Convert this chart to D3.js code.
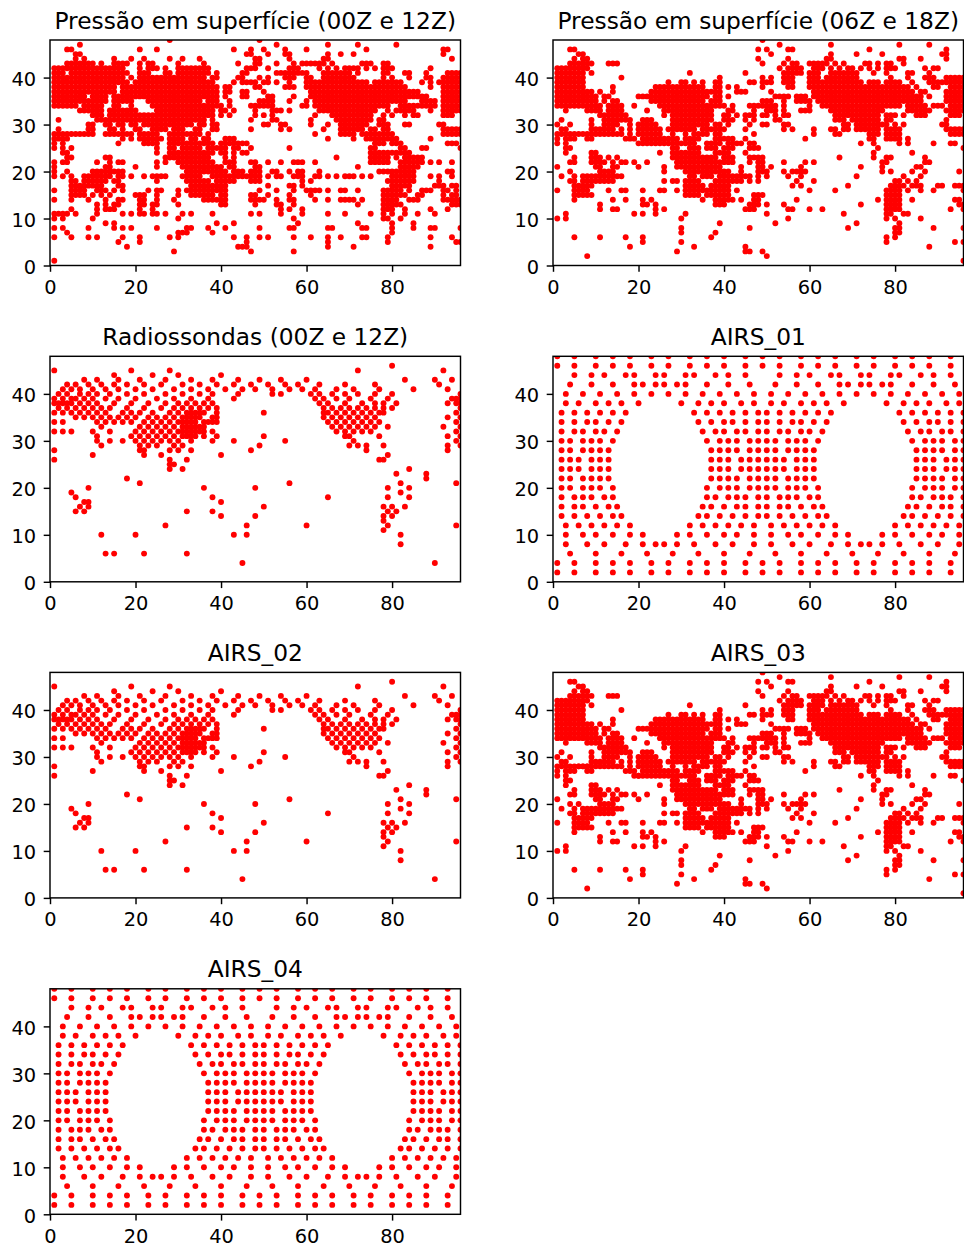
<!DOCTYPE html>
<html>
<head>
<meta charset="utf-8">
<script src="https://d3js.org/d3.v7.min.js"></script>
<style>
body { margin: 0; background: #fff; }
text { font-family: "DejaVu Sans", sans-serif; fill: #000; }
</style>
</head>
<body>
<div class="canvas"></div>
<script>
// rows: first number is y, the rest are x values, [a, b] means every x from a to b
const superficie0012 = [
  [48, 28, 49],
  [47, 7, 53, 65, 72, 81],
  [46, 4, 5, 21, 25, 43, 47, 50, 55, 60, 74, 92, 93],
  [45, 6, 7, 46, 47, 51, 55, 56, 65, 68, 71, 92],
  [44, 6, 8, 15, 19, 22, 28, 31, 35, 48, 49, 56, 64, 65, 94],
  [43, [4, 10], 12, [15, 18], 21, 23, 24, 30, 36, 44, 48, 49, 53, 57, [59, 64], 66, 73, 74, 75, 78, 79],
  [42, [1, 17], 21, [23, 25], 27, [30, 37], 46, 47, 48, 51, [56, 58], 63, 65, 67, [69, 72], 74, 76, [78, 80], 89],
  [41, [1, 3], [5, 18], [21, 23], 27, 28, [30, 37], 39, 45, 46, [53, 60], [64, 70], 72, 78, 79, 83, 84, 88, [93, 96]],
  [40, [1, 17], 19, [21, 36], 38, 39, 44, 45, 49, 51, [55, 57], [60, 61], [64, 71], 78, 80, 84, 88, 89, [92, 96]],
  [39, [1, 18], [20, 38], 43, [45, 48], 50, 51, 53, 56, [60, 74], [76, 82], 87, 89, [91, 96]],
  [38, [1, 15], [17, 37], 38, 39, 41, 42, 48, 49, [55, 57], [60, 83], 89, [92, 96]],
  [37, [1, 15], [17, 39], 41, 42, 45, 46, 50, [61, 86], [92, 96]],
  [36, [1, 8], [10, 13], [15, 39], 41, 45, 46, 51, 52, 57, [61, 88], [92, 96]],
  [35, [1, 13], [15, 19], [23, 35], [37, 39], 42, 49, 50, 51, 52, 56, 60, [62, 83], [87, 90], [92, 96]],
  [34, [1, 6], [8, 12], 15, 16, 19, [24, 40], 42, [47, 52], 59, 60, [62, 79], [82, 90], [92, 96]],
  [33, [7, 12], [14, 20], [25, 37], 38, 40, 41, 43, 48, [52, 54], 56, [63, 76], 79, 81, [82, 85], 89, [92, 96]],
  [32, [10, 12], [14, 26], [27, 38], 40, 42, 48, 50, 52, 62, [66, 75], 78, 80, 83, 85, 86, 92, 93, 94],
  [31, 2, [11, 28], [29, 36], 38, 47, 52, 53, 61, [67, 75], 77, 78],
  [30, 9, 10, 13, 14, 16, 17, 19, 20, [22, 33], 35, 36, 38, 39, 50, 51, 54, 55, 61, 65, [68, 74], [77, 79], 83, 84, 91, 92],
  [29, 2, 9, 10, 14, 15, 17, 20, 21, [24, 27], [29, 31], 34, 35, 38, 39, 47, 54, 56, 64, [68, 73], 75, 76, 78, 79, [92, 96]],
  [28, [1, 10], [13, 19], [21, 25], [28, 35], 37, 62, [68, 71], [73, 80], [92, 96]],
  [27, [1, 4], 17, 19, 21, 22, [23, 26], [28, 31], 33, 34, 36, 37, [41, 43], 65, 71, [74, 81], 89],
  [26, 1, 3, 16, 22, 23, 24, 25, [28, 38], 40, 41, [42, 46], [76, 78], [80, 82], [93, 95]],
  [25, 1, 3, 5, 25, 28, 29, [31, 35], [37, 41], 43, 44, 47, 56, 75, 76, 82, 83, 87, 88, 96],
  [24, 3, 4, 25, [28, 38], 40, 41, 43, 45, 46, [75, 84]],
  [23, 4, 5, 13, 14, 27, 28, [29, 37], 41, 43, 67, [75, 79], 81, [83, 87]],
  [22, 1, 3, 4, 11, 14, 16, 17, 25, 27, [30, 38], [41, 43], 47, 48, 51, 54, [57, 59], 62, [75, 79], [82, 87], 89, 91, 94],
  [21, 1, 13, 14, 20, 25, [31, 40], 42, 43, 48, 49, 72, [82, 86]],
  [20, 1, 4, [10, 17], [32, 41], 43, 44, 45, 47, 48, 49, 52, 53, 56, 58, 59, 63, [77, 85], 93, 94],
  [19, 1, 3, 5, [8, 14], 16, 17, 19, 22, [24, 27], [31, 35], [38, 46], [47, 49], 51, 53, 54, [57, 59], 62, 63, 65, 67, [69, 71], 73, 75, [80, 85], 89, 91, 94],
  [18, 5, 6, [8, 13], 15, 16, 25, [32, 37], [39, 43], [47, 49], 59, 61, [79, 85], 91],
  [17, [5, 12], 16, 17, [33, 41], 51, 56, 57, 59, [80, 84], [90, 92], 94, 95],
  [16, 1, [5, 8], 11, 12, 13, 15, 17, 23, 25, 26, 30, [32, 41], 49, 53, 57, [60, 63], 65, 68, 69, 72, [78, 82], 84, 87, 88, 89, 92, 93, 95],
  [15, [5, 8], 10, 12, 14, [20, 22], 25, 30, [33, 38], 40, 41, 47, 48, 51, 56, 61, [78, 83], 86, 87, 92, 94, 95],
  [14, 1, 5, 9, 13, 16, 17, 21, 22, 25, 29, [36, 41], [47, 50], 53, 56, 57, 62, 65, [68, 71], 73, [78, 81], [84, 86], [92, 96]],
  [13, 11, 13, 15, 16, 21, 22, 24, 25, 30, 40, 41, 48, 53, 54, 57, 72, [78, 82], [94, 96]],
  [12, 5, 11, 13, 14, 15, 21, 24, 54, 56, 59, [78, 80], 83, 89, 93],
  [11, [1, 4], 6, 11, 17, 19, 21, 22, 24, 25, 27, 31, 33, 38, 47, 49, 54, 59, 65, 69, 75, 78, 80, 83, 86, 90],
  [10, 1, 3, 10, 30, 57, 78, 79, 82],
  [9, 13, 15, 39, 43, 58, 72, 80, 85],
  [8, 1, 3, 9, 15, 17, 19, 25, 32, 33, 37, 41, 49, 56, 57, 65, 66, 73, 74, 80, 85, 89, 90, 96],
  [7, 4, 30, 31, 32, 38, 80],
  [6, 1, 5, 9, 11, 17, 21, 28, 30, 43, 46, 49, 51, 57, 61, 65, 68, 73, 74, 79, 89, 94],
  [5, 16, 21, 46, 65, 79, 95, 96],
  [4, 18, 44, 45, 46, 65, 71, 89],
  [3, 29, 47, 57],
  [1, 1]
];

const superficie0618 = [
  [48, 49],
  [47, 53, 65, 81, 88],
  [46, 4, 5, 48, 50, 55, 56, 74, 92],
  [45, 6, 7, 51, 65, 71, 77, 91, 92],
  [44, 5, 7, 8, 48, 55, 64, 65, 81, 82, 86, 92],
  [43, [4, 9], [13, 15], 49, 54, 56, 57, [60, 64], 66, 68, 73, 74, 76, 78, 79, 82],
  [42, [1, 8], 53, [55, 58], [61, 63], 65, 67, 69, 70, 72, 74, 76, [78, 80], 87, 89, 90],
  [41, [1, 7], 9, 32, 45, [54, 58], [60, 62], [65, 71], 75, 78, 83, 84, 88],
  [40, [1, 7], 16, 39, 49, 51, [54, 56], [60, 62], [64, 71], 79, 83, 87, 88, 89, [92, 96]],
  [39, [1, 7], 27, 30, 31, 33, 35, 38, 39, 46, 47, 49, 50, 51, [54, 56], [60, 72], [74, 76], [78, 81], 84, [88, 90], [91, 96]],
  [38, [1, 7], 14, [24, 35], 38, 39, 41, 43, 49, 55, 56, [60, 83], 85, 89, 90, [93, 96]],
  [37, [1, 9], 11, 14, [23, 39], [43, 45], 51, [61, 84], 86, 87, [92, 96]],
  [36, [1, 10], 12, 13, [20, 36], 38, 39, 41, [52, 55], [57, 59], [61, 86], 88, [92, 96]],
  [35, [1, 10], 12, 14, 15, [23, 35], [37, 39], 49, 50, 51, 54, [57, 60], [62, 86], [92, 96]],
  [34, [1, 11], [13, 16], 19, [25, 40], 42, 46, 47, [48, 52], 54, 60, [63, 81], [83, 87], [89, 91], [93, 96]],
  [33, 3, [8, 11], [13, 16], 22, [26, 37], 41, 42, 47, 50, 51, 52, 54, 58, 59, 60, [65, 77], [83, 88], [92, 96]],
  [32, [11, 17], 26, [28, 37], 40, 41, 43, 45, 46, 47, 49, 50, 52, 54, 55, [66, 76], [78, 80], 82, [85, 87], [93, 95]],
  [31, 2, 9, 12, [13, 18], [21, 23], [28, 37], 40, 41, 42, 45, 47, 52, 53, [66, 68], [70, 76], 78, 79, 92],
  [30, 1, 4, 9, [12, 15], 18, [20, 24], [28, 36], 38, 39, 41, 46, 49, 50, 54, 55, 68, 69, [71, 78], 80, 82, 91, 92],
  [29, 2, 3, [9, 14], 16, 18, [20, 25], 27, [28, 33], [35, 40], 45, 54, 56, 61, 65, 66, 68, 69, [71, 76], [78, 81], [92, 96]],
  [28, [1, 16], 18, [20, 25], 28, 31, [33, 36], 38, 39, 47, 61, 66, 67, [74, 76], [78, 81], [93, 96]],
  [27, 1, [3, 5], 8, 9, [17, 19], [21, 29], [31, 34], [38, 42], 45, 59, 74, 75, [78, 81], 83],
  [26, 1, 3, [20, 33], 36, 37, 38, 39, 41, [42, 44], 46, 47, 72, 75, 81, 83, 89, 93, 94],
  [25, 3, 4, 28, 29, [32, 34], [36, 38], 40, 41, 42, 46, 47, 48, 76, 96],
  [24, 3, 9, 10, 25, [28, 34], [38, 41], 45, 75, 84],
  [23, 5, [9, 11], 13, 15, [28, 38], [40, 42], 46, 47, 48, 49, 67, 75, 78, 79, 87],
  [22, 4, 5, [9, 12], 14, 16, 17, 19, 22, [29, 42], 46, 48, 49, 54, 59, 61, 77, 78, 87, 88],
  [21, 1, 10, 11, 14, 15, 20, 26, [29, 39], 44, 48, 49, 51, 58, 72, 77, 85, 86],
  [20, 4, [11, 14], 26, [31, 41], 44, 48, 49, 50, 54, [56, 59], 77, 79, 84, 87, 95],
  [19, 2, 5, 7, 8, [9, 16], 32, 33, [35, 37], [39, 46], 48, 50, 55, 58, 71, 82, 86],
  [18, 4, 5, [7, 14], 26, 28, 29, [31, 34], [38, 44], 46, 48, 57, 61, 80, 81, 83, 85],
  [17, [5, 9], [31, 35], [37, 41], 56, 58, 69, [79, 82], [84, 86], 90, 91, 94, 95, 96],
  [16, 1, [5, 8], 13, 16, 17, 21, 25, 26, 29, [31, 41], 43, 60, 66, [78, 81], 83, 86, 89, 96],
  [15, [5, 9], [31, 34], [36, 41], 47, 48, 49, [78, 81]],
  [14, 5, 14, 17, 21, 23, 35, [38, 42], 44, 47, 48, 57, 76, [78, 81], 84, 94, 95],
  [13, 11, 21, 22, 24, [38, 40], 46, 47, 48, 50, 54, 72, [78, 81], 95, 96],
  [12, 11, 14, 15, 24, 26, [45, 47], 55, 56, 60, 63, [78, 81], 93, 96],
  [11, 3, 19, 21, 24, 31, 50, 68, 78, 79, 82, 83],
  [10, 1, 3, 30, 55, 78, 80, 86],
  [9, 39, 52, 71, 81],
  [8, 30, 46, 69, 80, 81, 89, 96],
  [7, 30, 38, 80, 81],
  [6, 5, 11, 17, 21, 37, 78, 80],
  [5, 21, 30, 78, 94, 96],
  [4, 18, 33, 45, 88],
  [3, 29, 45, 46, 49],
  [2, 8, 50],
  [1, 96]
];

// AIRS_03 carries the same cells plus these few
const airs03Extra = [
  [20, 6],
  [28, 6, 7, 8],
  [41, 61, 62, 63],
  [26, 19, 20]
];

const radiossondas = [
  [46, 80],
  [45, 1, 19, 28, 72, 92],
  [44, 15, 24, 30, 40],
  [43, 8, 11, 16, 21, 27, 33, 38, 44, 49, 54, 60, 83, 90, 94],
  [42, 4, 6, 9, 12, 15, 18, 22, 26, 31, 35, 39, 43, 47, 51, 55, 58, 63, 69, 76, 91],
  [41, 3, 5, 7, 10, 13, 16, 20, 24, 29, 33, 37, 41, 45, 48, 52, 56, 59, 62, 67, 71, 77, 85, 93],
  [40, 2, 4, 7, 9, 11, 14, 18, 22, 27, 31, 35, 38, 44, 52, 54, 61, 63, 66, 69, 72, 76, 80, 96],
  [39, 1, 3, 5, 6, 8, 10, 13, 16, 20, 25, 29, 33, 37, 43, 62, 64, 67, 70, 75, 79, 94, 95, 96],
  [38, [1, 5], 7, 9, 11, 15, 19, 23, 27, 30, 32, 34, 36, 38, 63, 65, 69, 73, 76, 78, 81, 93, 95, 96],
  [37, 2, 4, 6, 8, 10, 12, 14, 18, 22, 26, 29, 31, 33, 35, 37, 39, 64, 66, 68, 70, 72, 74, 76, 78, 80, 96],
  [36, 1, 3, 5, 7, 9, 11, 13, 17, 19, 21, 24, 28, 30, [32, 36], 39, 50, 64, 65, 67, 69, 71, 73, 75, 77, 78, 95],
  [35, 6, 8, 10, 12, 14, 16, 18, 20, 23, 25, 27, 29, 31, [32, 35], 38, 39, 64, 66, 68, 70, 72, 74, 76, 93, 96],
  [34, 1, 3, 11, 13, 15, 17, 19, 22, 24, 26, 28, 30, [31, 34], [36, 39], 65, 67, 69, 71, 73, 75, 77, 95],
  [33, 12, 21, 23, 25, 27, 29, [31, 36], 66, 68, 70, 72, 74, 76, 79, 92, 96],
  [32, 1, 3, 5, 10, 14, 20, 22, 24, 26, 28, 30, [31, 36], 38, 67, 69, 71, 73, 75, 95],
  [31, 11, 19, 21, 23, 25, 27, 29, [31, 34], 36, 39, 50, 69, 70, 77, 93, 96],
  [30, 11, 14, 17, 20, 22, 24, 26, 28, 30, 33, 38, 43, 55, 71, 95],
  [29, 12, 21, 23, 25, 29, 31, 49, 70, 72, 74, 78, 93, 96],
  [28, 1, 21, 22, 28, 30, 33, 47, 74, 93],
  [27, 10, 22, 26, 40, 79],
  [26, 1, 28, 32, 77, 78],
  [25, 28, 29],
  [24, 28, 31, 84],
  [23, 81, 88],
  [22, 18, 88],
  [21, 21, 56, 82, 95],
  [20, 9, 36, 48, 79, 84],
  [19, 5, 82],
  [18, 6, 38, 65, 79, 84],
  [17, 8, 9, 40],
  [16, 7, 9, 50, 78, 80, 83],
  [15, 6, 8, 32, 38, 79, 81],
  [14, 40, 48, 78, 80],
  [13, 78],
  [12, 27, 46, 60, 79, 95],
  [11, 78],
  [10, 12, 20, 43, 46, 82],
  [8, 82],
  [6, 13, 15, 22, 32],
  [4, 45, 90]
];
const airs02 = radiossondas;

const airs01 = [
  [48, 1, 5, 10, 14, 18, 23, 27, 32, 36, 40, 45, 49, 53, 58, 62, 66, 71, 75, 80, 84, 88, 93],
  [46, 1, 5, 10, 14, 18, 23, 27, 32, 36, 40, 45, 49, 53, 58, 62, 66, 71, 75, 80, 84, 88, 93],
  [44, 5, 9, 12, 17, 19, 24, 26, 31, 33, 38, 41, 45, 53, 57, 60, 65, 67, 72, 74, 79, 81, 86, 89, 93],
  [42, 4, 9, 14, 19, 21, 24, 26, 29, 31, 36, 41, 46, 52, 57, 62, 67, 69, 72, 74, 77, 79, 84, 89, 94],
  [40, 3, 7, 11, 15, 19, 23, 27, 31, 35, 39, 43, 47, 51, 55, 59, 63, 67, 71, 75, 79, 83, 87, 91, 95],
  [38, 3, 6, 10, 13, 16, 20, 30, 34, 37, 40, 44, 47, 51, 54, 58, 61, 64, 68, 78, 82, 85, 88, 92, 95],
  [36, 2, 5, 8, 11, 14, 17, 33, 36, 39, 42, 45, 48, 50, 53, 56, 59, 62, 65, 81, 84, 87, 90, 93, 96],
  [34, 2, 5, 8, 10, 13, 16, 34, 37, 40, 42, 45, 48, 50, 53, 56, 58, 61, 64, 82, 85, 88, 90, 93, 96],
  [32, 2, 5, 7, 10, 12, 15, 35, 38, 40, 43, 45, 48, 50, 53, 55, 58, 60, 63, 83, 86, 88, 91, 93, 96],
  [30, 2, 4, 7, 9, 11, 14, 36, 39, 41, 43, 46, 48, 50, 52, 55, 57, 59, 62, 84, 87, 89, 91, 94, 96],
  [28, 2, 4, 7, 9, 11, 13, 37, 39, 41, 43, 46, 48, 50, 52, 55, 57, 59, 61, 85, 87, 89, 91, 94, 96],
  [26, 2, 4, 6, 9, 11, 13, 37, 39, 41, 44, 46, 48, 50, 52, 54, 57, 59, 61, 85, 87, 89, 92, 94, 96],
  [24, 2, 4, 6, 9, 11, 13, 37, 39, 41, 44, 46, 48, 50, 52, 54, 57, 59, 61, 85, 87, 89, 92, 94, 96],
  [22, 2, 4, 7, 9, 11, 13, 37, 39, 41, 43, 46, 48, 50, 52, 55, 57, 59, 61, 85, 87, 89, 91, 94, 96],
  [20, 2, 4, 7, 9, 11, 14, 36, 39, 41, 43, 46, 48, 50, 52, 55, 57, 59, 62, 84, 87, 89, 91, 94, 96],
  [18, 2, 5, 7, 9, 12, 14, 36, 38, 41, 43, 45, 48, 50, 53, 55, 57, 60, 62, 84, 86, 89, 91, 93, 96],
  [16, 2, 5, 7, 10, 13, 15, 35, 37, 40, 43, 45, 48, 50, 53, 55, 58, 61, 63, 83, 85, 88, 91, 93, 96],
  [14, 2, 5, 8, 11, 14, 16, 34, 36, 39, 42, 45, 48, 50, 53, 56, 59, 62, 64, 82, 84, 87, 90, 93, 96],
  [12, 3, 6, 9, 12, 15, 18, 32, 35, 38, 41, 44, 47, 51, 54, 57, 60, 63, 66, 80, 83, 86, 89, 92, 95],
  [10, 3, 7, 10, 14, 18, 21, 29, 32, 36, 40, 43, 47, 51, 55, 58, 62, 66, 69, 77, 80, 84, 88, 91, 95],
  [8, 3, 8, 12, 17, 21, 24, 26, 29, 33, 38, 42, 47, 51, 56, 60, 65, 69, 72, 74, 77, 81, 86, 90, 95],
  [6, 4, 10, 16, 22, 28, 34, 40, 46, 52, 58, 64, 70, 76, 82, 88, 94],
  [4, 1, 5, 10, 14, 18, 23, 27, 32, 36, 40, 45, 49, 53, 58, 62, 66, 71, 75, 80, 84, 88, 93],
  [2, 1, 5, 10, 14, 18, 23, 27, 32, 36, 40, 45, 49, 53, 58, 62, 66, 71, 75, 80, 84, 88, 93]
];
const airs04 = airs01;

const titles = ['Pressão em superfície (00Z e 12Z)', 'Pressão em superfície (06Z e 18Z)', 'Radiossondas (00Z e 12Z)',
  'AIRS_01', 'AIRS_02', 'AIRS_03', 'AIRS_04'];
const panelRows = [superficie0012, superficie0618, radiossondas, airs01, airs02, superficie0618.concat(airs03Extra), airs04];
const xTicks = [0, 20, 40, 60, 80];
const yTicks = [0, 10, 20, 30, 40];

// turn the rows into {x, y} cells
const cells = rows => rows.flatMap(([y, ...xs]) =>
  xs.flatMap(v => Array.isArray(v) ? d3.range(v[0], v[1] + 1) : [v]).map(x => ({ x, y })));

const svg = d3.select('.canvas').append('svg')
    .attr('width', 964)
    .attr('height', 1250)
    .style('display', 'block');

const plotW = 410.5;
const plotH = 225.5;
const colLeft = [50, 553];
const rowTop = [40, 356.3, 672.4, 988.8];

const x = d3.scaleLinear().domain([0, 96]).range([0, plotW]);
const y = d3.scaleLinear().domain([0, 48]).range([plotH, 0]);

svg.append('clipPath').attr('id', 'plot-clip')
  .append('rect').attr('width', plotW).attr('height', plotH);

titles.forEach((title, i) => {
  const g = svg.append('g')
      .attr('transform', `translate(${colLeft[i % 2]}, ${rowTop[Math.floor(i / 2)]})`);

  g.append('g').attr('clip-path', 'url(#plot-clip)')
    .selectAll('circle')
    .data(cells(panelRows[i]))
    .join('circle')
      .attr('cx', d => x(d.x))
      .attr('cy', d => y(d.y))
      .attr('r', 2.95)
      .attr('fill', '#ff0000');

  const xAxis = g.append('g').attr('transform', `translate(0, ${plotH})`)
      .call(d3.axisBottom(x).tickValues(xTicks).tickSize(6.3).tickPadding(8.5));
  const yAxis = g.append('g')
      .call(d3.axisLeft(y).tickValues(yTicks).tickSize(6.3).tickPadding(7.5));

  [xAxis, yAxis].forEach(a => {
    a.selectAll('text').style('font-family', '"DejaVu Sans"').style('font-size', '19.4px');
    a.selectAll('line').attr('stroke-width', 1.45);
    a.select('.domain').remove();
  });
  yAxis.selectAll('text').attr('dy', '0.41em');

  // full frame like matplotlib spines
  g.append('rect')
      .attr('width', plotW)
      .attr('height', plotH)
      .attr('fill', 'none')
      .attr('stroke', '#000')
      .attr('stroke-width', 1.45);

  g.append('text')
      .attr('x', plotW / 2)
      .attr('y', -11.5)
      .attr('text-anchor', 'middle')
      .style('font-size', '23.3px')
      .text(title);
});
</script>
</body>
</html>
